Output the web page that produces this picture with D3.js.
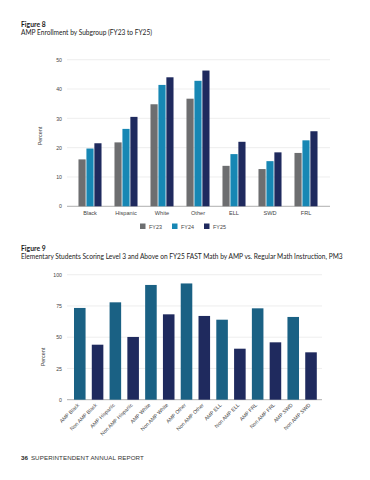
<!DOCTYPE html>
<html>
<head>
<meta charset="utf-8">
<script src="https://cdn.jsdelivr.net/npm/d3@7"></script>
<style>
  html, body { margin: 0; padding: 0; background: #fff; }
  svg { display: block; }
  .title { font-family: Lato, "Open Sans", sans-serif; fill: #1a1a1a; }
  .axis text { font-family: "Liberation Sans", Arial, sans-serif; fill: #444; }
  .axis path, .axis line { stroke: none; }
</style>
</head>
<body>
<svg id="page" width="370" height="480"></svg>
<script>
// figure 8 data
const subgroups = ['Black', 'Hispanic', 'White', 'Other', 'ELL', 'SWD', 'FRL'];
const years = ['FY23', 'FY24', 'FY25'];
const fy23 = [16.0, 21.8, 34.8, 36.7, 13.8, 12.7, 18.2];
const fy24 = [19.7, 26.4, 41.4, 42.8, 17.8, 15.4, 22.5];
const fy25 = [21.5, 30.5, 44.0, 46.3, 22.0, 18.4, 25.6];
const yearColors = ['#6d6e70', '#1787b4', '#1f2a5e'];
const enrollTicks = [0, 10, 20, 30, 40, 50];

// figure 9 data
const groups = ['AMP Black', 'Non AMP Black', 'AMP Hispanic', 'Non AMP Hispanic',
  'AMP White', 'Non AMP White', 'AMP Other', 'Non AMP Other', 'AMP ELL', 'Non AMP ELL',
  'AMP FRL', 'Non AMP FRL', 'AMP SWD', 'Non AMP SWD'];
const level3 = [73.4, 44.0, 77.9, 50.2, 91.8, 68.3, 93.0, 67.0, 64.0, 40.8, 73.1, 45.9, 66.2, 37.9];
const level3Ticks = [0, 25, 50, 75, 100];

const svg = d3.select('#page');

function titles(y, fig, sub) {
  svg.append('text').attr('class', 'title').attr('x', 21).attr('y', y)
    .attr('font-size', 6.8).attr('font-weight', 700).text(fig);
  svg.append('text').attr('class', 'title').attr('x', 21).attr('y', y + 8)
    .attr('font-size', 6.6).text(sub);
}

// ---------- Figure 8 ----------
titles(26.5, 'Figure 8', 'AMP Enrollment by Subgroup (FY23 to FY25)');

const y1 = d3.scaleLinear().domain([0, 50]).range([206.3, 59.7]);
const x1 = d3.scaleBand().domain(subgroups).range([72, 324]).paddingInner(0.36).paddingOuter(0.18);
const xs1 = d3.scaleBand().domain(years).range([0, x1.bandwidth()]).paddingInner(0.1);

const g1 = svg.append('g');
g1.selectAll('line.grid').data(enrollTicks).join('line')
  .attr('x1', 67).attr('x2', 330)
  .attr('y1', d => y1(d)).attr('y2', d => y1(d))
  .attr('stroke', d => d === 0 ? '#9a9a9a' : '#e2e2e2').attr('stroke-width', d => d === 0 ? 0.8 : 0.6);

g1.append('g').attr('class', 'axis').attr('transform', 'translate(62,0)')
  .call(d3.axisLeft(y1).tickValues(enrollTicks).tickSize(0).tickPadding(0))
  .selectAll('text').attr('font-size', 5.2);

const series = [fy23, fy24, fy25];
subgroups.forEach((s, i) => {
  const grp = g1.append('g').attr('transform', `translate(${x1(s)},0)`);
  grp.selectAll('rect').data(years).join('rect')
    .attr('x', d => xs1(d))
    .attr('width', xs1.bandwidth())
    .attr('y', (d, j) => y1(series[j][i]))
    .attr('height', (d, j) => y1(0) - y1(series[j][i]))
    .attr('fill', (d, j) => yearColors[j]);
});

g1.append('g').attr('class', 'axis').attr('transform', `translate(0,${y1(0) + 3})`)
  .call(d3.axisBottom(x1).tickSize(0).tickPadding(2))
  .selectAll('text').attr('font-size', 5.6).attr('fill', '#333');

svg.append('text').attr('class', 'axis')
  .attr('transform', 'translate(42,136) rotate(-90)')
  .attr('text-anchor', 'middle').attr('font-size', 5.4)
  .attr('font-family', '"Liberation Sans", Arial, sans-serif').attr('fill', '#444')
  .text('Percent');

const legend = svg.append('g').attr('transform', 'translate(140,226.5)');
const lx = d3.scalePoint().domain(years).range([0, 64]);
years.forEach((yr, j) => {
  legend.append('rect').attr('x', lx(yr)).attr('y', -3).attr('width', 5.5).attr('height', 5.5)
    .attr('fill', yearColors[j]);
  legend.append('text').attr('x', lx(yr) + 9).attr('y', 2)
    .attr('font-size', 5.4).attr('font-family', '"Liberation Sans", Arial, sans-serif')
    .attr('fill', '#444').text(yr);
});

// ---------- Figure 9 ----------
titles(250.5, 'Figure 9', 'Elementary Students Scoring Level 3 and Above on FY25 FAST Math by AMP vs. Regular Math Instruction, PM3');

const y2 = d3.scaleLinear().domain([0, 100]).range([399.7, 274.7]);
const x2 = d3.scaleBand().domain(groups).range([70.8, 320]).paddingInner(0.35).paddingOuter(0.18);

const g2 = svg.append('g');
g2.selectAll('line.grid').data(level3Ticks).join('line')
  .attr('x1', 67).attr('x2', 322)
  .attr('y1', d => y2(d)).attr('y2', d => y2(d))
  .attr('stroke', d => d === 0 ? '#9a9a9a' : '#e2e2e2').attr('stroke-width', d => d === 0 ? 0.8 : 0.6);

g2.append('g').attr('class', 'axis').attr('transform', 'translate(62,0)')
  .call(d3.axisLeft(y2).tickValues(level3Ticks).tickSize(0).tickPadding(0))
  .selectAll('text').attr('font-size', 5.2);

g2.selectAll('rect').data(groups).join('rect')
  .attr('x', d => x2(d))
  .attr('width', x2.bandwidth())
  .attr('y', (d, i) => y2(level3[i]))
  .attr('height', (d, i) => y2(0) - y2(level3[i]))
  .attr('fill', d => d.startsWith('Non') ? '#1f2a5e' : '#1a6184');

g2.append('g').attr('class', 'axis').attr('transform', `translate(0,${y2(0) + 3})`)
  .call(d3.axisBottom(x2).tickSize(0).tickPadding(0))
  .selectAll('text')
  .attr('font-size', 5.2).attr('fill', '#333')
  .attr('text-anchor', 'end')
  .attr('dy', '0.35em')
  .attr('transform', 'rotate(-45) translate(-2,0)');

svg.append('text')
  .attr('transform', 'translate(45,357) rotate(-90)')
  .attr('text-anchor', 'middle').attr('font-size', 5.4)
  .attr('font-family', '"Liberation Sans", Arial, sans-serif').attr('fill', '#444')
  .text('Percent');

// footer
const foot = svg.append('text').attr('x', 21).attr('y', 459.5)
  .attr('font-family', '"Liberation Sans", Arial, sans-serif').attr('font-size', 6.2).attr('fill', '#222');
foot.append('tspan').attr('font-weight', 700).text('36');
foot.append('tspan').attr('dx', 3).attr('fill', '#333').attr('letter-spacing', 0.1).text('SUPERINTENDENT ANNUAL REPORT');
</script>
</body>
</html>
